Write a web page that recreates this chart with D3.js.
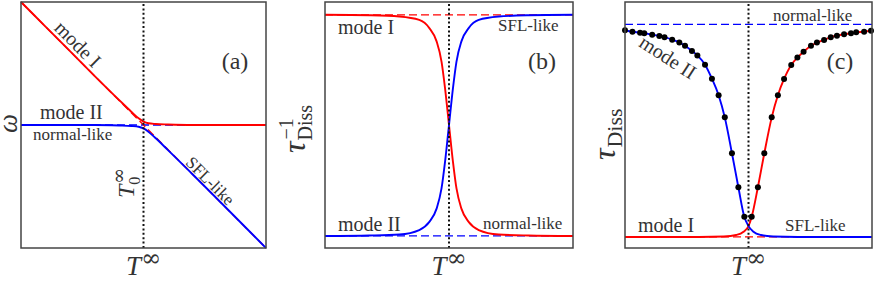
<!DOCTYPE html>
<html>
<head>
<meta charset="utf-8">
<script src="https://cdnjs.cloudflare.com/ajax/libs/d3/7.8.5/d3.min.js"></script>
<style>
  body { margin: 0; background: #fff; }
  text { font-family: "Liberation Serif", "DejaVu Serif", serif; fill: #333; }
  .inf { font-family: "DejaVu Serif", serif; }
</style>
</head>
<body>
<svg id="chart" width="886" height="282"></svg>
<script>
// values, x and y both on a 0..1 scale inside each frame

// (a) frequency vs T
const a_modeI = [[0, 1], [0.1, 0.9], [0.2, 0.8], [0.3, 0.7], [0.4, 0.602], [0.45, 0.554], [0.48, 0.527],
  [0.5, 0.514], [0.52, 0.507], [0.55, 0.504], [0.6, 0.502], [0.7, 0.5], [1, 0.5]];
const a_modeII = [[0, 0.5], [0.3, 0.5], [0.4, 0.498], [0.45, 0.496], [0.48, 0.493], [0.5, 0.486],
  [0.52, 0.473], [0.55, 0.446], [0.6, 0.398], [0.7, 0.3], [1, 0]];
const a_normalLevel = [[0, 0.5], [1, 0.5]];
const a_sflLine = [[0, 1], [1, 0]];

// (b) inverse dissipation time
const b_modeI = [[0, 0.948], [0.18, 0.946], [0.3, 0.941], [0.38, 0.927], [0.42, 0.895], [0.45, 0.84],
  [0.47, 0.757], [0.484, 0.65], [0.5, 0.5], [0.516, 0.35], [0.53, 0.243], [0.55, 0.16], [0.58, 0.105],
  [0.62, 0.073], [0.7, 0.055], [0.82, 0.051], [1, 0.049]];
const b_modeII = [[0, 0.049], [0.18, 0.051], [0.3, 0.055], [0.38, 0.073], [0.42, 0.105], [0.45, 0.16],
  [0.47, 0.243], [0.484, 0.35], [0.5, 0.5], [0.516, 0.65], [0.53, 0.757], [0.55, 0.84], [0.58, 0.895],
  [0.62, 0.927], [0.7, 0.941], [0.82, 0.946], [1, 0.948]];
const b_topLevel = [[0, 0.948], [1, 0.948]];
const b_bottomLevel = [[0, 0.049], [1, 0.049]];

// (c) dissipation time, dots = numerical points
const c_dotsII = [[0.0, 0.885], [0.03, 0.879], [0.061, 0.875], [0.078, 0.873], [0.11, 0.867], [0.139, 0.862],
  [0.16, 0.857], [0.191, 0.847], [0.22, 0.835], [0.243, 0.822], [0.271, 0.801], [0.293, 0.783], [0.324, 0.745],
  [0.352, 0.688], [0.379, 0.621], [0.404, 0.531], [0.433, 0.385], [0.459, 0.247], [0.483, 0.127]];
const c_dotsI = [[0.513, 0.127], [0.538, 0.247], [0.564, 0.385], [0.594, 0.531], [0.619, 0.621], [0.644, 0.687],
  [0.673, 0.744], [0.698, 0.774], [0.723, 0.798], [0.753, 0.822], [0.777, 0.835], [0.806, 0.846], [0.833, 0.857],
  [0.858, 0.863], [0.887, 0.869], [0.915, 0.873], [0.936, 0.877], [0.968, 0.879], [0.996, 0.883]];
const c_tailII = [[0.5, 0.089], [0.52, 0.066], [0.55, 0.053], [0.6, 0.047], [0.7, 0.045], [1, 0.045]];
const c_headI = [[0, 0.045], [0.3, 0.045], [0.4, 0.047], [0.45, 0.053], [0.48, 0.066], [0.5, 0.089]];
const c_normalLevel = [[0, 0.909], [1, 0.909]];
const c_sflLevel = [[0, 0.045], [1, 0.045]];

const T0 = 0.5; // dotted vertical line

const RED = "#f00", BLUE = "#00f";
const svg = d3.select("#chart");

function panel(x0, x1) {
  const x = d3.scaleLinear().domain([0, 1]).range([x0, x1]);
  const y = d3.scaleLinear().domain([0, 1]).range([248, 2]);
  const g = svg.append("g");
  const line = d3.line().x(d => x(d[0])).y(d => y(d[1])).curve(d3.curveMonotoneX);
  return { x, y, g, line };
}

function curve(p, data, color, dashed) {
  p.g.append("path")
    .attr("d", p.line(data))
    .attr("fill", "none")
    .attr("stroke", color)
    .attr("stroke-width", dashed ? 1.3 : 1.9)
    .attr("stroke-dasharray", dashed ? "8,4" : null);
}

function finish(p) {
  p.g.append("line")
    .attr("x1", p.x(T0)).attr("x2", p.x(T0))
    .attr("y1", p.y(0)).attr("y2", p.y(1))
    .attr("stroke", "#111").attr("stroke-width", 2).attr("stroke-dasharray", "2,2.4");
  p.g.append("rect")
    .attr("x", p.x(0)).attr("y", p.y(1))
    .attr("width", p.x(1) - p.x(0)).attr("height", p.y(0) - p.y(1))
    .attr("fill", "none").attr("stroke", "#444").attr("stroke-width", 1.5);
  // x label T^inf
  const t = p.g.append("text").attr("x", p.x(0.5)).attr("y", 275).attr("text-anchor", "middle");
  t.append("tspan").attr("font-style", "italic").attr("font-size", 27).text("T");
  t.append("tspan").attr("class", "inf").attr("font-size", 24).attr("dy", -9).text("∞");
}

function label(p, str, x, y, size, anchor, rot) {
  const t = p.g.append("text").attr("font-size", size).text(str);
  if (rot) {
    t.attr("text-anchor", "middle").attr("dominant-baseline", "central")
      .attr("transform", `translate(${x},${y}) rotate(${rot})`);
  } else {
    t.attr("x", x).attr("y", y).attr("text-anchor", anchor || "start");
  }
  return t;
}

// ---- (a)
const pa = panel(21, 266);
curve(pa, a_normalLevel, BLUE, true);
curve(pa, a_sflLine, RED, true);
curve(pa, a_modeI, RED);
curve(pa, a_modeII, BLUE);
finish(pa);
label(pa, "mode I", 78, 44, 20, null, 45);
label(pa, "mode II", 40, 119, 20);
label(pa, "normal-like", 33, 140, 17);
label(pa, "SFL-like", 210, 181, 17, null, 45);
label(pa, "(a)", 235, 69, 24, "middle");
{
  const g = pa.g.append("g").attr("transform", "translate(17,133) rotate(-90)");
  g.append("text").attr("font-style", "italic").attr("font-size", 27).text("ω");
  const g2 = pa.g.append("g").attr("transform", "translate(134,198) rotate(-90)");
  const T = g2.append("text").attr("font-style", "italic").attr("font-size", 24).text("T");
  const w = T.node().getComputedTextLength();
  g2.append("text").attr("class", "inf").attr("x", w + 1).attr("y", -9).attr("font-size", 19).text("∞");
  g2.append("text").attr("x", w).attr("y", 6).attr("font-size", 16).text("0");
}

// ---- (b)
const pb = panel(325, 573);
curve(pb, b_topLevel, RED, true);
curve(pb, b_bottomLevel, BLUE, true);
curve(pb, b_modeI, RED);
curve(pb, b_modeII, BLUE);
finish(pb);
label(pb, "mode I", 338, 34, 20);
label(pb, "SFL-like", 498, 31, 17);
label(pb, "(b)", 542, 69, 24, "middle");
label(pb, "mode II", 338, 231, 20);
label(pb, "normal-like", 483, 229, 17);
{
  const g = pb.g.append("g").attr("transform", "translate(305,153) rotate(-90)");
  const tau = g.append("text").attr("font-style", "italic").attr("font-size", 32).text("τ");
  const w = tau.node().getComputedTextLength();
  g.append("text").attr("x", w + 1).attr("y", 7).attr("font-size", 20).text("Diss");
  g.append("text").attr("x", w + 2).attr("y", -12).attr("font-size", 20).text("−1");
}

// ---- (c)
const pc = panel(625, 872);
curve(pc, c_normalLevel, BLUE, true);
curve(pc, c_sflLevel, RED, true);
curve(pc, c_headI.concat(c_dotsI), RED);
curve(pc, c_dotsII.concat(c_tailII), BLUE);
pc.g.append("g").selectAll("circle")
  .data(c_dotsII.concat(c_dotsI))
  .join("circle")
  .attr("cx", d => pc.x(d[0]))
  .attr("cy", d => pc.y(d[1]))
  .attr("r", 3)
  .attr("fill", "#000");
finish(pc);
label(pc, "normal-like", 773, 21, 17);
label(pc, "(c)", 840, 69, 24, "middle");
label(pc, "mode II", 668, 57, 20, null, 33);
label(pc, "mode I", 638, 232, 20);
label(pc, "SFL-like", 785, 231, 17);
{
  const g = pc.g.append("g").attr("transform", "translate(615,160) rotate(-90)");
  const tau = g.append("text").attr("font-style", "italic").attr("font-size", 32).text("τ");
  const w = tau.node().getComputedTextLength();
  g.append("text").attr("x", w + 1).attr("y", 7).attr("font-size", 22).text("Diss");
}
</script>
</body>
</html>
